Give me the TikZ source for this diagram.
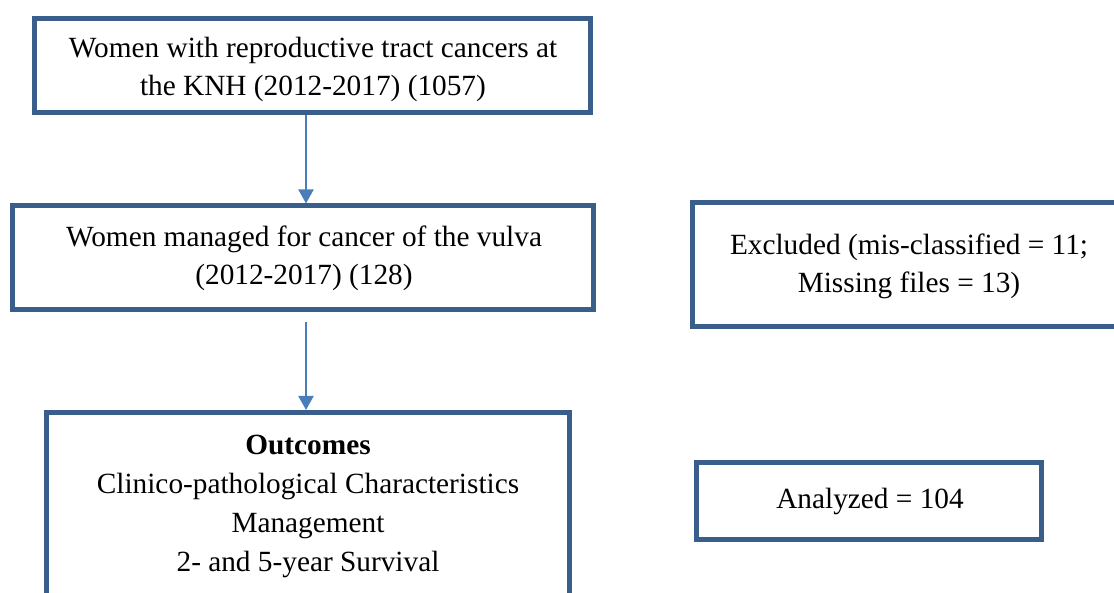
\documentclass[tikz,border=0pt]{standalone}
\usepackage{fontspec}
\setmainfont{Liberation Serif}
\usetikzlibrary{arrows.meta}
\definecolor{boxblue}{HTML}{3A5E8C}
\definecolor{arrblue}{HTML}{4A7EBB}
\tikzset{
  flowbox/.style={draw=boxblue, line width=5pt, inner sep=0pt, fill=white},
  txt/.style={align=center, font=\fontsize{29.3}{38.8}\selectfont, inner sep=0pt, anchor=base},
  arr/.style={draw=arrblue, line width=2pt, -{Triangle[width=15pt,length=14pt]}}
}
\begin{document}
\begin{tikzpicture}[x=1pt,y=-1pt]
\useasboundingbox (0,0) rectangle (1114,593);
% boxes
\node[flowbox, minimum width=556pt, minimum height=94.2pt] (top) at (312.5,65.4) {};
\node[flowbox, minimum width=581pt, minimum height=104pt] (b2) at (303,258) {};
\node[flowbox, minimum width=522.5pt, minimum height=227.5pt] (b3) at (307.75,526.25) {};
\node[flowbox, minimum width=433.5pt, minimum height=124.5pt] (ex) at (909.25,264.75) {};
\node[flowbox, minimum width=345pt, minimum height=77pt] (an) at (869,501) {};
% texts (anchor base = baseline of the last line)
\node[txt] (ttop) at (313,96) {Women with reproductive tract cancers at\\the KNH (2012-2017) (1057)};
\node[txt] (tb2) at (304,285) {Women managed for cancer of the vulva\\(2012-2017) (128)};
\node[txt] (tb3) at (308,571) {\textbf{Outcomes}\\Clinico-pathological Characteristics\\Management\\2- and 5-year Survival};
\node[txt] (tex) at (909,293) {Excluded (mis-classified = 11;\\Missing files = 13)};
\node[txt] (tan) at (870,508) {Analyzed = 104};
% arrows
\coordinate (ax) at (306,0);
\draw[arr] (top.south -| ax) -- (b2.north -| ax);
\draw[arr, shorten <=10pt] (b2.south -| ax) -- (b3.north -| ax);
\end{tikzpicture}
\end{document}
